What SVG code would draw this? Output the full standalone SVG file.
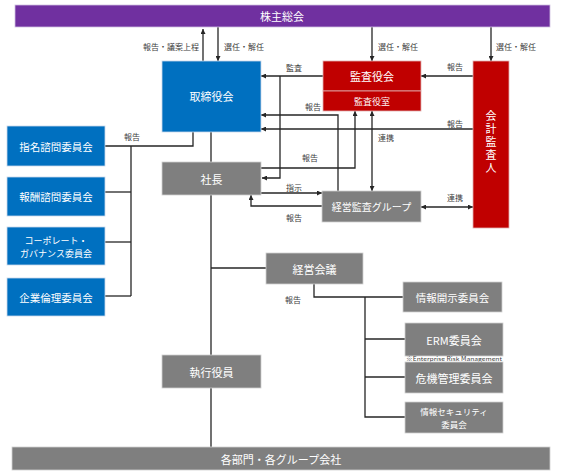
<svg xmlns="http://www.w3.org/2000/svg" width="566" height="475" viewBox="0 0 566 475">
<style>
text{font-family:"Noto Sans CJK JP","Noto Sans",sans-serif;}
.nt{fill:#fff;font-size:11px;text-anchor:middle;dominant-baseline:central;}
.lb{fill:#404040;font-size:8px;}
.purple{fill:#7030A0;stroke:#d0c0e0;stroke-width:0.8;}
.blue{fill:#0070C0;stroke:#c8d8ea;stroke-width:0.8;}
.red{fill:#C00000;stroke:#e0b0b0;stroke-width:0.8;}
.grey{fill:#7F7F7F;stroke:#d0d0d0;stroke-width:0.8;}
.c{fill:none;stroke:#262626;stroke-width:1.3;}
</style>
<defs>
<marker id="ah" viewBox="0 0 10 10" refX="10" refY="5" markerWidth="5" markerHeight="5" markerUnits="userSpaceOnUse" orient="auto-start-reverse">
<path d="M0,0 L10,5 L0,10 z" fill="#262626"/>
</marker>
</defs>

<g id="connectors">
<line class="c" x1="203" y1="61" x2="203" y2="29" marker-end="url(#ah)"/>
<line class="c" x1="218" y1="27" x2="218" y2="61" marker-end="url(#ah)"/>
<line class="c" x1="372" y1="27" x2="372" y2="61" marker-end="url(#ah)"/>
<line class="c" x1="491" y1="27" x2="491" y2="61" marker-end="url(#ah)"/>
<line class="c" x1="473" y1="76" x2="421" y2="76" marker-end="url(#ah)"/>
<line class="c" x1="323" y1="76" x2="261" y2="76" marker-end="url(#ah)"/>
<polyline class="c" points="280,76 280,178 262,178" marker-end="url(#ah)"/>
<polyline class="c" points="338,191 338,115 261,115" marker-end="url(#ah)"/>
<line class="c" x1="473" y1="129" x2="261" y2="129" marker-end="url(#ah)"/>
<polyline class="c" points="261,168 355,168 355,111" marker-end="url(#ah)"/>
<line class="c" x1="372" y1="111" x2="372" y2="191" marker-start="url(#ah)" marker-end="url(#ah)"/>
<line class="c" x1="261" y1="193" x2="322" y2="193" marker-end="url(#ah)"/>
<polyline class="c" points="322,206 251,206 251,195" marker-end="url(#ah)"/>
<line class="c" x1="421" y1="207" x2="473" y2="207" marker-start="url(#ah)" marker-end="url(#ah)"/>
<line class="c" x1="211" y1="132" x2="211" y2="162"/>
<line class="c" x1="211" y1="195" x2="211" y2="355"/>
<line class="c" x1="211" y1="388" x2="211" y2="447"/>
<line class="c" x1="211" y1="268" x2="266" y2="268"/>
<polyline class="c" points="314,284 314,297 403,297"/>
<polyline class="c" points="365,297 365,417 405,417"/>
<line class="c" x1="365" y1="339" x2="405" y2="339"/>
<line class="c" x1="365" y1="377" x2="405" y2="377"/>
<polyline class="c" points="193,132 193,146 105,146"/>
<line class="c" x1="131" y1="146" x2="131" y2="296"/>
<line class="c" x1="105" y1="192" x2="131" y2="192"/>
<line class="c" x1="105" y1="242" x2="131" y2="242"/>
<line class="c" x1="105" y1="296" x2="131" y2="296"/>
</g>

<g id="labels">
<text class="lb" x="199" y="50" text-anchor="end">報告・議案上程</text>
<text class="lb" x="224" y="50">選任・解任</text>
<text class="lb" x="378" y="50">選任・解任</text>
<text class="lb" x="496" y="50">選任・解任</text>
<text class="lb" x="286" y="71">監査</text>
<text class="lb" x="447" y="70">報告</text>
<text class="lb" x="305" y="110">報告</text>
<text class="lb" x="447" y="127">報告</text>
<text class="lb" x="378" y="141">連携</text>
<text class="lb" x="302" y="161">報告</text>
<text class="lb" x="286" y="191">指示</text>
<text class="lb" x="286" y="221">報告</text>
<text class="lb" x="447" y="201">連携</text>
<text class="lb" x="124" y="140">報告</text>
<text class="lb" x="285" y="303">報告</text>
</g>

<g id="shareholders"><rect class="purple" x="15" y="5" width="535" height="22"/><text class="nt" x="282" y="16">株主総会</text></g>
<g id="board"><rect class="blue" x="162" y="61" width="99" height="71"/><text class="nt" x="211.5" y="96">取締役会</text></g>
<g id="audit-board"><rect class="red" x="323" y="61" width="98" height="30"/><text class="nt" x="372" y="76">監査役会</text></g>
<g id="audit-office"><rect class="red" x="323" y="91" width="98" height="20"/><text class="nt" x="372" y="101" style="font-size:9px">監査役室</text></g>
<g id="accounting-auditor"><rect class="red" x="473" y="61" width="36" height="167"/>
<text x="491" y="143" style="fill:#fff;font-size:11px;writing-mode:vertical-rl;text-anchor:middle;letter-spacing:2px">会計監査人</text></g>
<g id="president"><rect class="grey" x="162" y="162" width="99" height="33"/><text class="nt" x="211.5" y="178.5">社長</text></g>
<g id="audit-group"><rect class="grey" x="322" y="191" width="99" height="31"/><text class="nt" x="371.5" y="206.5" style="font-size:10px">経営監査グループ</text></g>
<g id="nomination"><rect class="blue" x="7" y="126" width="98" height="40"/><text class="nt" x="56" y="146" style="font-size:10.5px">指名諮問委員会</text></g>
<g id="compensation"><rect class="blue" x="7" y="177" width="98" height="39"/><text class="nt" x="56" y="196.5" style="font-size:10.5px">報酬諮問委員会</text></g>
<g id="governance"><rect class="blue" x="7" y="227" width="98" height="38"/><text class="nt" x="56" y="240" style="font-size:9px">コーポレート・</text><text class="nt" x="56" y="253" style="font-size:9px">ガバナンス委員会</text></g>
<g id="ethics"><rect class="blue" x="7" y="278" width="98" height="38"/><text class="nt" x="56" y="297" style="font-size:10.5px">企業倫理委員会</text></g>
<g id="management-meeting"><rect class="grey" x="266" y="253" width="97" height="31"/><text class="nt" x="314.5" y="268.5">経営会議</text></g>
<g id="disclosure"><rect class="grey" x="403" y="282" width="99" height="30"/><text class="nt" x="452.5" y="297" style="font-size:10.5px">情報開示委員会</text></g>
<g id="erm"><rect class="grey" x="405" y="323" width="98" height="33"/><text class="nt" x="454" y="339.5">ERM委員会</text>
<text x="454" y="359" style="fill:#404040;font-size:5.5px;text-anchor:middle;dominant-baseline:central" textLength="96" lengthAdjust="spacingAndGlyphs">※Enterprise Risk Management</text></g>
<g id="crisis"><rect class="grey" x="405" y="362" width="98" height="31"/><text class="nt" x="454" y="377.5">危機管理委員会</text></g>
<g id="infosec"><rect class="grey" x="405" y="402" width="98" height="31"/><text class="nt" x="454" y="411" style="font-size:8.5px">情報セキュリティ</text><text class="nt" x="454" y="424" style="font-size:8.5px">委員会</text></g>
<g id="executive-officers"><rect class="grey" x="162" y="355" width="99" height="33"/><text class="nt" x="211.5" y="371.5">執行役員</text></g>
<g id="divisions"><rect class="grey" x="12" y="447" width="538" height="23"/><text class="nt" x="281" y="458.5">各部門・各グループ会社</text></g>
</svg>
